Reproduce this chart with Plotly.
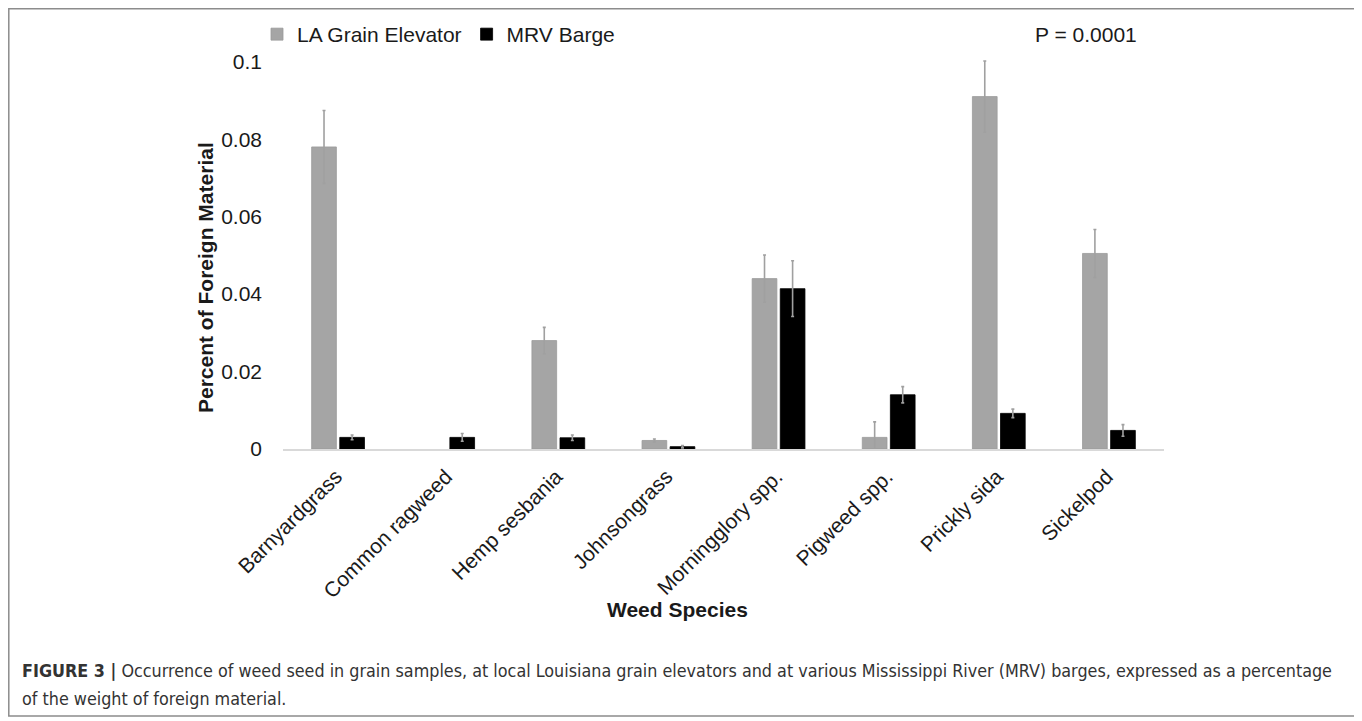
import plotly.graph_objects as go

categories = ["Barnyardgrass", "Common ragweed", "Hemp sesbania", "Johnsongrass",
              "Morningglory spp.", "Pigweed spp.", "Prickly sida", "Sickelpod"]
la_values = [0.078, None, 0.028, 0.0022, 0.044, 0.003, 0.091, 0.0505]
la_errors = [0.0094, None, 0.0034, 0.0004, 0.0061, 0.004, 0.0092, 0.0062]
mrv_values = [0.003, 0.003, 0.0029, 0.0006, 0.0414, 0.014, 0.0092, 0.0048]
mrv_errors = [0.0006, 0.001, 0.0007, 0.0003, 0.0072, 0.0021, 0.0011, 0.0015]
y_ticks = [0, 0.02, 0.04, 0.06, 0.08, 0.1]
y_tick_text = ["0", "0.02", "0.04", "0.06", "0.08", "0.1"]

W, H = 1362, 721
OFF = 8  # page offset of the figure inside the html body
# plot area in page pixels: x 283..1164, y 54..449
PL, PR, PT, PB = 283, 1164, 54, 449
L, T = PL - OFF, PT - OFF
R, B = W - (PR - OFF), H - (PB - OFF)
PW, PH = W - L - R, H - T - B

def px_x(px):
    return (px - OFF - L) / PW

def px_y(py):
    return (H - B - (py - OFF)) / PH

FONT = "Liberation Sans, Arial, sans-serif"
CAP_FONT = "Liberation Sans Narrow, DejaVu Sans Condensed, Arial Narrow, sans-serif"
TXT = "#1a1a1a"

fig = go.Figure()
fig.add_trace(go.Bar(
    name="LA Grain Elevator", x=categories, y=la_values,
    marker=dict(color="#a5a5a5", line=dict(color="#9a9a9a", width=0.8)),
    error_y=dict(type="data", array=la_errors, visible=True,
                 color="#a0a0a0", thickness=1.6, width=1.5),
    cliponaxis=False,
))
fig.add_trace(go.Bar(
    name="MRV Barge", x=categories, y=mrv_values,
    marker=dict(color="#000000", line=dict(color="#000000", width=0.8)),
    error_y=dict(type="data", array=mrv_errors, visible=True,
                 color="#a0a0a0", thickness=1.6, width=1.5),
    cliponaxis=False,
))

fig.update_layout(
    width=W, height=H,
    margin=dict(l=L, r=R, t=T, b=B, pad=0, autoexpand=False),
    paper_bgcolor="white", plot_bgcolor="white",
    barmode="group", bargap=0.49, bargroupgap=0.12,
    font=dict(family=FONT, size=21, color=TXT),
    showlegend=True,
    legend=dict(orientation="h", x=px_x(257), y=px_y(14), xanchor="left", yanchor="top",
                font=dict(size=21, color=TXT), bgcolor="rgba(0,0,0,0)",
                itemclick=False, traceorder="normal"),
    xaxis=dict(showgrid=False, showline=True, linecolor="#d9d9d9", linewidth=2,
               ticks="", tickangle=-45, tickfont=dict(size=21, color=TXT),
               ticklabelstandoff=5, ticklabelshift=-2, zeroline=False, automargin=False),
    yaxis=dict(range=[0, 0.102], tickvals=y_ticks, ticktext=y_tick_text,
               showgrid=False, showline=False, zeroline=False, ticks="",
               tickfont=dict(size=21, color=TXT), ticklabelstandoff=20, automargin=False),
)

annotations = [
    dict(text="P = 0.0001", x=px_x(1033), y=px_y(35), xanchor="left", yanchor="middle",
         font=dict(size=21, color=TXT)),
    dict(text="<b>Percent of Foreign Material</b>", x=px_x(205), y=px_y(278),
         textangle=-90, xanchor="center", yanchor="middle", font=dict(size=21, color=TXT)),
    dict(text="<b>Weed Species</b>", x=px_x(677), y=px_y(609), xanchor="center",
         yanchor="middle", font=dict(size=21, color=TXT)),
    dict(text="<b>FIGURE 3 |</b> Occurrence of weed seed in grain samples, at local Louisiana grain elevators and at various Mississippi River (MRV) barges, expressed as a percentage",
         x=px_x(20), y=px_y(670), xanchor="left", yanchor="middle",
         font=dict(size=17.8, color="#333333", family=CAP_FONT)),
    dict(text="of the weight of foreign material.",
         x=px_x(20), y=px_y(698), xanchor="left", yanchor="middle",
         font=dict(size=17.8, color="#333333", family=CAP_FONT)),
]
for a in annotations:
    a.update(xref="paper", yref="paper", showarrow=False)
fig.update_layout(annotations=annotations)

fig.add_shape(type="rect", xref="paper", yref="paper",
              x0=px_x(8.8), x1=px_x(1355), y0=px_y(716), y1=px_y(8.8),
              line=dict(color="#8c8c8c", width=1.5), fillcolor="rgba(0,0,0,0)", layer="above")

fig.write_html("out.html")
